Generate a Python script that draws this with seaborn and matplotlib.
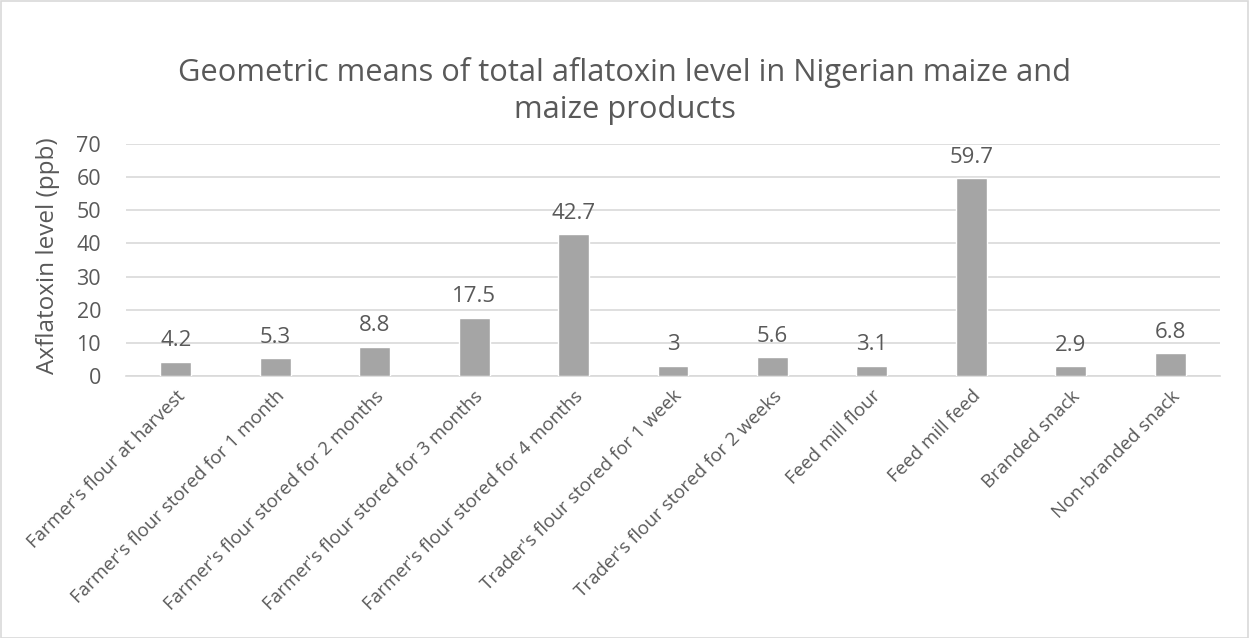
import matplotlib
matplotlib.use("Agg")
import matplotlib.pyplot as plt
import seaborn as sns
import pandas as pd

categories = [
    "Farmer's flour at harvest",
    "Farmer's flour stored for 1 month",
    "Farmer's flour stored for 2 months",
    "Farmer's flour stored for 3 months",
    "Farmer's flour stored for 4 months",
    "Trader's flour stored for 1 week",
    "Trader's flour stored for 2 weeks",
    "Feed mill flour",
    "Feed mill feed",
    "Branded snack",
    "Non-branded snack",
]
values = [4.2, 5.3, 8.8, 17.5, 42.7, 3, 5.6, 3.1, 59.7, 2.9, 6.8]
value_labels = ["4.2", "5.3", "8.8", "17.5", "42.7", "3", "5.6", "3.1", "59.7", "2.9", "6.8"]
yticks = [0, 10, 20, 30, 40, 50, 60, 70]

sns.set_theme(style="white")
plt.rcParams['font.family'] = ['Open Sans', 'DejaVu Sans']
TXT = "#595959"

df = pd.DataFrame({"cat": categories, "val": values})

fig = plt.figure(figsize=(12.49, 6.38), dpi=100)
ax = fig.add_axes([126/1249, 1-376/638, (1220-126)/1249, (376-144)/638])
sns.barplot(data=df, x="cat", y="val", color="#a5a5a5", width=0.31,
            saturation=1, ax=ax, zorder=3)
ax.set_ylim(0, 70)
ax.set_yticks(yticks)
ax.set_yticklabels([str(t) for t in yticks], fontsize=15.5, color=TXT)
ax.grid(axis="y", color="#d9d9d9", linewidth=1.2, zorder=0)
ax.set_axisbelow(True)
for s in ["top", "right", "left"]:
    ax.spines[s].set_visible(False)
ax.spines["bottom"].set_color("#d9d9d9")
ax.spines["bottom"].set_linewidth(1.2)
ax.tick_params(axis="both", length=0)
ax.tick_params(axis="y", pad=18)
ax.set_xlabel("")
ax.set_ylabel("Axflatoxin level (ppb)", fontsize=17.5, color=TXT)
ax.yaxis.set_label_coords(-66/1094, 0.52)
ax.set_xticks(range(len(categories)))
ax.set_xticklabels(categories, rotation=45, ha="right", rotation_mode="anchor",
                   fontsize=13.5, color=TXT)
ax.tick_params(axis="x", pad=8)
for i, (v, lab) in enumerate(zip(values, value_labels)):
    ax.text(i, v + 3.2, lab, ha="center", va="bottom", fontsize=16, color=TXT)

fig.text(0.5, 1-72/638, "Geometric means of total aflatoxin level in Nigerian maize and",
         ha="center", va="center", fontsize=22.2, color=TXT)
fig.text(0.5, 1-110/638, "maize products",
         ha="center", va="center", fontsize=22.2, color=TXT)

border = plt.Rectangle((0.5/1249, 0.5/638), 1-1.5/1249, 1-1.5/638, transform=fig.transFigure,
                       fill=False, edgecolor="#d9d9d9", linewidth=1.2)
fig.patches.append(border)

fig.savefig("out.png", dpi=100)
